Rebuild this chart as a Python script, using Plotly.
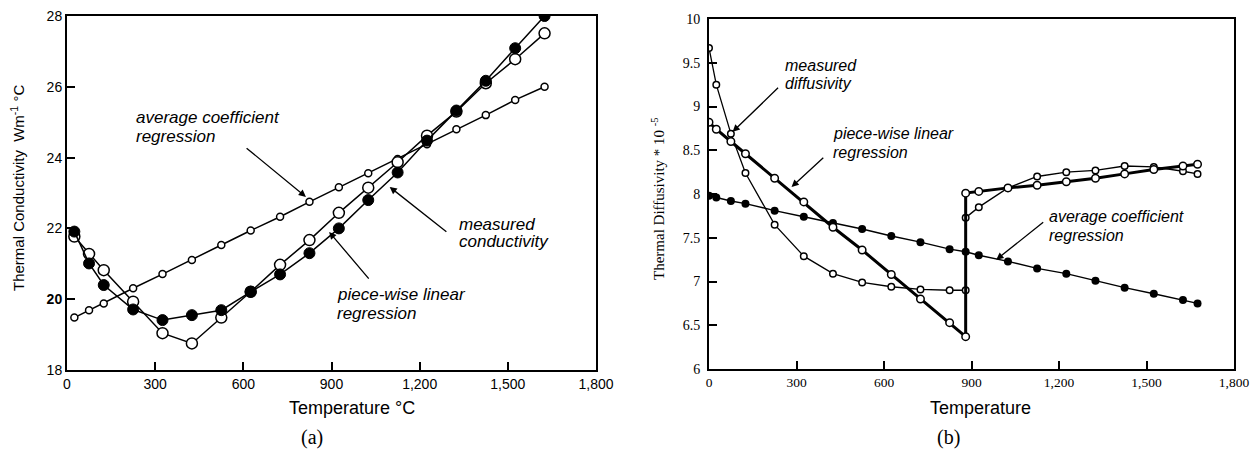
import plotly.graph_objects as go

W, H = 1260, 461

# ---------------- data: (a) thermal conductivity ----------------
cond_temp = [25, 75, 125, 225, 325, 425, 525, 625, 725, 825, 925, 1025, 1125, 1225, 1325, 1425, 1525, 1625]
cond_measured = [21.91, 21.01, 20.40, 19.71, 19.41, 19.55, 19.69, 20.21, 20.70, 21.30, 22.00, 22.80, 23.58, 24.48, 25.33, 26.17, 27.09, 28.00]
cond_piecewise = [21.77, 21.28, 20.82, 19.93, 19.04, 18.75, 19.48, 20.21, 20.97, 21.67, 22.44, 23.15, 23.87, 24.62, 25.30, 26.10, 26.78, 27.51]
cond_average = [19.48, 19.69, 19.88, 20.31, 20.71, 21.11, 21.53, 21.94, 22.33, 22.75, 23.16, 23.56, 23.96, 24.38, 24.80, 25.20, 25.63, 26.00]

# ---------------- data: (b) thermal diffusivity ----------------
diff_temp_step = [0, 25, 75, 125, 225, 325, 425, 525, 625, 725, 825, 880, 880, 925, 1025, 1125, 1225, 1325, 1425, 1525, 1625, 1675]
diff_measured = [9.67, 9.25, 8.69, 8.24, 7.65, 7.29, 7.09, 6.99, 6.94, 6.91, 6.90, 6.90, 7.73, 7.85, 8.07, 8.20, 8.25, 8.27, 8.32, 8.31, 8.26, 8.23]
diff_piecewise = [8.82, 8.74, 8.60, 8.46, 8.18, 7.91, 7.62, 7.36, 7.08, 6.80, 6.53, 6.37, 8.01, 8.03, 8.07, 8.10, 8.14, 8.18, 8.23, 8.28, 8.32, 8.34]
diff_temp_avg = [0, 25, 75, 125, 225, 325, 425, 525, 625, 725, 825, 880, 925, 1025, 1125, 1225, 1325, 1425, 1525, 1625, 1675]
diff_average = [7.98, 7.96, 7.92, 7.89, 7.81, 7.74, 7.67, 7.60, 7.52, 7.45, 7.37, 7.34, 7.30, 7.23, 7.15, 7.09, 7.01, 6.93, 6.86, 6.79, 6.75]

x_ticks = [0, 300, 600, 900, 1200, 1500, 1800]
x_ticktext = ["0", "300", "600", "900", "1,200", "1,500", "1,800"]
a_y_ticks = [18, 20, 22, 24, 26, 28]
a_y_ticktext = ["18", "<b>20</b>", "22", "24", "26", "28"]
b_y_ticks = [6, 6.5, 7, 7.5, 8, 8.5, 9, 9.5, 10]
b_y_ticktext = ["6", "6.5", "7", "7.5", "8", "8.5", "9", "9.5", "10"]

SANS = "Liberation Sans, Arial, sans-serif"
SERIF = "Liberation Serif, Times New Roman, serif"

def px(x):
    return x / W

def py(y):
    return 1 - y / H

fig = go.Figure()

open_big = dict(symbol="circle", size=11, color="white", line=dict(color="black", width=1.5))
filled_big = dict(symbol="circle", size=11, color="black", line=dict(color="black", width=1))
open_small = dict(symbol="circle", size=7, color="white", line=dict(color="black", width=1.5))

fig.add_trace(go.Scatter(x=cond_temp, y=cond_average, mode="lines+markers",
                         line=dict(color="black", width=1.5), marker=open_small,
                         xaxis="x", yaxis="y", name="average coefficient regression"))
fig.add_trace(go.Scatter(x=cond_temp, y=cond_piecewise, mode="lines+markers",
                         line=dict(color="black", width=1.5), marker=open_big,
                         xaxis="x", yaxis="y", name="piece-wise linear regression"))
fig.add_trace(go.Scatter(x=cond_temp, y=cond_measured, mode="lines+markers",
                         line=dict(color="black", width=1.5), marker=filled_big,
                         xaxis="x", yaxis="y", name="measured conductivity"))

fig.add_trace(go.Scatter(x=diff_temp_avg, y=diff_average, mode="lines+markers",
                         line=dict(color="black", width=1.5),
                         marker=dict(symbol="circle", size=8, color="black"),
                         xaxis="x2", yaxis="y2", name="average coefficient regression"))
fig.add_trace(go.Scatter(x=diff_temp_step, y=diff_measured, mode="lines+markers",
                         line=dict(color="black", width=1.3),
                         marker=dict(symbol="circle", size=6.5, color="white", line=dict(color="black", width=1.5)),
                         xaxis="x2", yaxis="y2", name="measured diffusivity"))
fig.add_trace(go.Scatter(x=diff_temp_step, y=diff_piecewise, mode="lines+markers",
                         line=dict(color="black", width=3),
                         marker=dict(symbol="circle", size=7.5, color="white", line=dict(color="black", width=1.5)),
                         xaxis="x2", yaxis="y2", name="piece-wise linear regression"))

axis_common = dict(showgrid=False, zeroline=False, showline=True, linecolor="black",
                   linewidth=2, mirror=True, ticks="inside", ticklen=8, tickwidth=1.5,
                   tickcolor="black", automargin=False)

fig.update_layout(
    width=W, height=H,
    margin=dict(l=0, r=0, t=0, b=0),
    paper_bgcolor="white", plot_bgcolor="white",
    showlegend=False,
    xaxis=dict(domain=[px(67), px(596)], range=[0, 1800], tickvals=x_ticks, ticktext=x_ticktext,
               anchor="y", tickfont=dict(family=SANS, size=14, color="black"), **axis_common),
    yaxis=dict(domain=[py(370), py(16)], range=[18, 28], tickvals=a_y_ticks, ticktext=a_y_ticktext,
               anchor="x", tickfont=dict(family=SANS, size=14, color="black"), **axis_common),
    xaxis2=dict(domain=[px(709), px(1234)], range=[0, 1800], tickvals=x_ticks, ticktext=x_ticktext,
                anchor="y2", tickfont=dict(family=SERIF, size=13.5, color="black"), **axis_common),
    yaxis2=dict(domain=[py(369), py(19)], range=[6, 10], tickvals=b_y_ticks, ticktext=b_y_ticktext,
                anchor="x2", ticklabelstandoff=4, tickfont=dict(family=SERIF, size=14, color="black"), **axis_common),
)

ann = []
it_font = dict(family=SANS, size=17, color="black")
it_font_b = dict(family=SANS, size=16, color="black")

def arrow(xr, yr, tip, tail):
    return dict(xref=xr, yref=yr, axref=xr, ayref=yr, x=tip[0], y=tip[1], ax=tail[0], ay=tail[1],
                text="", showarrow=True, arrowhead=2, arrowsize=1.1, arrowwidth=1.3, arrowcolor="black")

def label(xr, yr, x, y, text, font):
    return dict(xref=xr, yref=yr, x=x, y=y, text="<i>" + text + "</i>", showarrow=False, xanchor="left",
                yanchor="middle", align="left", font=font)

# (a) annotations (one per text line)
ann.append(label("x", "y", 229, 25.12, "average coefficient", it_font))
ann.append(label("x", "y", 229, 24.61, "regression", it_font))
ann.append(arrow("x", "y", (813, 22.89), (606, 24.30)))
ann.append(label("x", "y", 1327, 22.12, "measured", it_font))
ann.append(label("x", "y", 1327, 21.62, "conductivity", it_font))
ann.append(arrow("x", "y", (1098, 23.17), (1296, 21.87)))
ann.append(label("x", "y", 912, 20.12, "piece-wise linear", it_font))
ann.append(label("x", "y", 912, 19.61, "regression", it_font))
ann.append(arrow("x", "y", (892, 21.90), (1031, 20.54)))

# (b) annotations
ann.append(label("x2", "y2", 253, 9.47, "measured", it_font_b))
ann.append(label("x2", "y2", 253, 9.26, "diffusivity", it_font_b))
ann.append(arrow("x2", "y2", (81, 8.71), (242, 9.23)))
ann.append(label("x2", "y2", 417, 8.69, "piece-wise linear", it_font_b))
ann.append(label("x2", "y2", 417, 8.48, "regression", it_font_b))
ann.append(arrow("x2", "y2", (283, 8.08), (397, 8.43)))
ann.append(label("x2", "y2", 1158, 7.74, "average coefficient", it_font_b))
ann.append(label("x2", "y2", 1158, 7.53, "regression", it_font_b))
ann.append(arrow("x2", "y2", (985, 7.25), (1151, 7.69)))

# axis titles
ann.append(dict(xref="paper", yref="paper", x=px(352), y=py(408), text="Temperature °C", showarrow=False,
                xanchor="center", yanchor="middle", font=dict(family=SANS, size=18, color="black")))
ann.append(dict(xref="paper", yref="paper", x=px(980), y=py(408), text="Temperature", showarrow=False,
                xanchor="center", yanchor="middle", font=dict(family=SANS, size=18, color="black")))
ann.append(dict(xref="paper", yref="paper", x=px(17), y=py(188), text="Thermal Conductivity  Wm<sup>-1</sup> °C",
                showarrow=False, textangle=-90, xanchor="center", yanchor="middle",
                font=dict(family=SANS, size=15, color="black")))
ann.append(dict(xref="paper", yref="paper", x=px(658), y=py(199), text="Thermal Diffusivity * 10 <sup>-5</sup>",
                showarrow=False, textangle=-90, xanchor="center", yanchor="middle",
                font=dict(family=SERIF, size=15, color="black")))

# captions
ann.append(dict(xref="paper", yref="paper", x=px(312), y=py(437), text="(a)", showarrow=False,
                xanchor="center", yanchor="middle", font=dict(family=SERIF, size=20, color="black")))
ann.append(dict(xref="paper", yref="paper", x=px(948), y=py(437), text="(b)", showarrow=False,
                xanchor="center", yanchor="middle", font=dict(family=SERIF, size=20, color="black")))

fig.update_layout(annotations=ann)

fig.write_html("out.html")
